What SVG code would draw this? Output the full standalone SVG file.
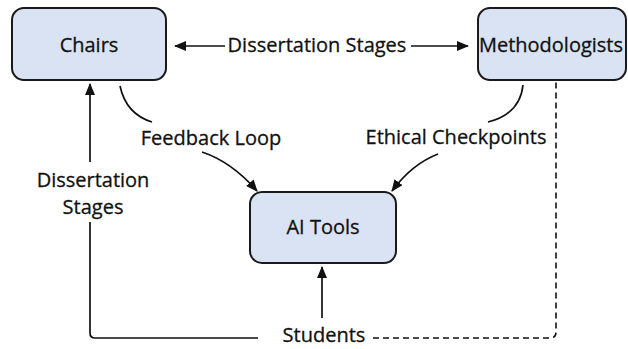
<svg xmlns="http://www.w3.org/2000/svg" width="628" height="349" viewBox="0 0 628 349">
  <style>
    .box { fill: #dae3f3; stroke: #1a1a1a; stroke-width: 2; }
    .lbl { font-family: "Open Sans", "Liberation Sans", sans-serif; font-size: 20px; fill: #111; stroke: #111; stroke-width: 0.3; text-anchor: middle; }
    .ln { fill: none; stroke: #111; stroke-width: 1.7; }
    .dash { fill: none; stroke: #111; stroke-width: 1.6; stroke-dasharray: 6 4; }
  </style>
  <defs>
    <marker id="ah" viewBox="0 0 12 10" refX="11" refY="5" markerWidth="12" markerHeight="10" markerUnits="userSpaceOnUse" orient="auto-start-reverse">
      <path d="M0,0 L12,5 L0,10 Z" fill="#111"/>
    </marker>
  </defs>
  <rect width="628" height="349" fill="#ffffff"/>

  <g id="connectors">
    <!-- Chairs <-> Methodologists -->
    <line class="ln" x1="175" y1="46" x2="225" y2="46" marker-start="url(#ah)"/>
    <line class="ln" x1="411" y1="46" x2="468" y2="46" marker-end="url(#ah)"/>
    <!-- Feedback loop -->
    <path class="ln" d="M120,86 Q126,114 152,122"/>
    <path class="ln" d="M202,152 Q232,162 257,191" marker-end="url(#ah)"/>
    <!-- Ethical checkpoints -->
    <path class="ln" d="M523,85 Q520,114 488,122"/>
    <path class="ln" d="M438,154 Q412,164 392,191" marker-end="url(#ah)"/>
    <!-- Students -> AI Tools -->
    <line class="ln" x1="322" y1="318" x2="322" y2="267" marker-end="url(#ah)"/>
    <!-- Students -> Chairs -->
    <path class="ln" d="M258,338 L95,338 Q90,338 90,333 L90,222"/>
    <line class="ln" x1="90" y1="162" x2="90" y2="84" marker-end="url(#ah)"/>
    <!-- Students - - Methodologists -->
    <path class="dash" d="M373,338 L550,338 Q556,338 556,332 L556,80"/>
  </g>

  <g id="chairs">
    <rect class="box" x="12" y="8" width="154" height="72" rx="12"/>
    <text class="lbl" x="89" y="52">Chairs</text>
  </g>
  <g id="methodologists">
    <rect class="box" x="478" y="8" width="148" height="72" rx="12"/>
    <text class="lbl" x="551" y="52" textLength="144" lengthAdjust="spacingAndGlyphs">Methodologists</text>
  </g>
  <g id="ai-tools">
    <rect class="box" x="250" y="192" width="146" height="71" rx="12"/>
    <text class="lbl" x="323" y="234">AI Tools</text>
  </g>
  <g id="students">
    <text class="lbl" x="324" y="342">Students</text>
  </g>

  <g id="labels">
    <text class="lbl" x="317" y="52">Dissertation Stages</text>
    <text class="lbl" x="211" y="145">Feedback Loop</text>
    <text class="lbl" x="456" y="144">Ethical Checkpoints</text>
    <text class="lbl" x="93" y="187">Dissertation</text>
    <text class="lbl" x="93" y="214">Stages</text>
  </g>
</svg>
